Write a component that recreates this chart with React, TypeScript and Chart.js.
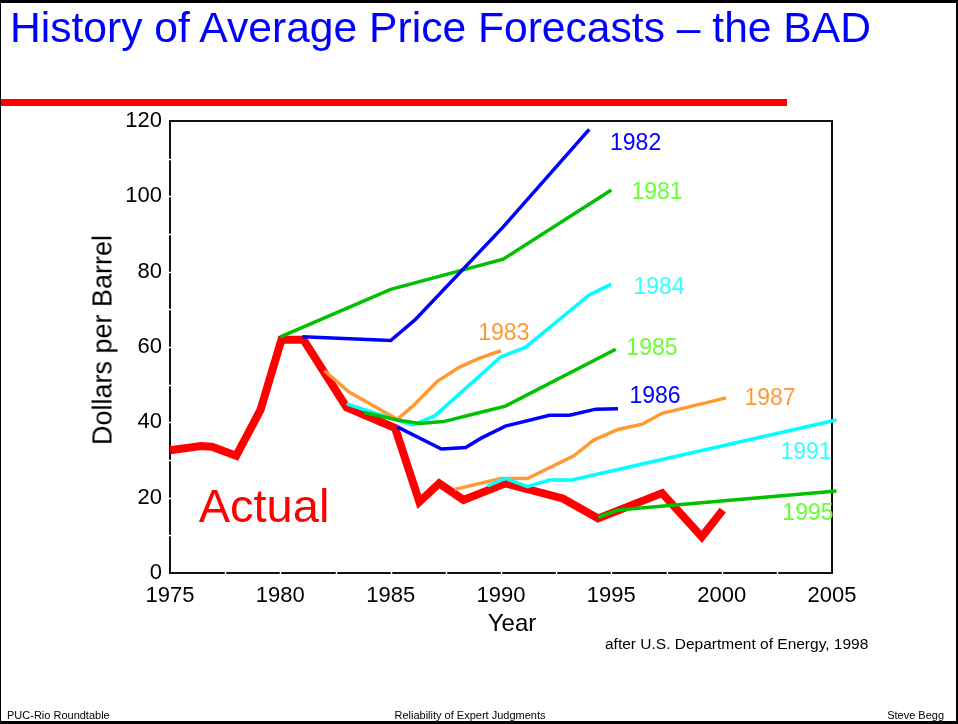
import React, { useEffect, useRef } from "react";
import { Chart, registerables } from "chart.js";

Chart.register(...registerables);

// ---- Data ----
const actualYears = [1975, 1976.4, 1976.9, 1978, 1979.1, 1980.05, 1981.05, 1983, 1985.2, 1986.3, 1987.2, 1988.3, 1990.2, 1992.8, 1994.4, 1997.3, 1999.1, 2000.05];
const actualValues = [32.6, 33.7, 33.5, 31.1, 43.3, 61.9, 61.9, 44.0, 38.5, 18.9, 23.8, 19.4, 23.8, 19.8, 14.5, 21.2, 9.6, 16.7];

const f1981Years = [1980, 1985, 1990.1, 1995];
const f1981Values = [62.7, 75.3, 83.3, 101.7];

const f1982Years = [1981, 1985, 1986.1, 1990.1, 1994];
const f1982Values = [62.7, 61.7, 67.2, 91.9, 117.8];

const f1983Years = [1982, 1983.1, 1985.3, 1986, 1987.1, 1988.1, 1989, 1990];
const f1983Values = [53.7, 48.1, 40.8, 44.3, 50.8, 54.6, 57.0, 59.0];

const f1984Years = [1983, 1984, 1986, 1987, 1990, 1991.1, 1994, 1995];
const f1984Values = [44.9, 43.0, 39.3, 41.7, 57.4, 59.9, 73.8, 76.7];

const f1985Years = [1983.8, 1985.3, 1986.3, 1987.4, 1988.9, 1990.2, 1995.2];
const f1985Values = [42.6, 40.6, 39.7, 40.2, 42.4, 44.3, 59.4];

const f1986Years = [1985.3, 1987.3, 1988.4, 1989.1, 1990.2, 1992.2, 1993.1, 1994.3, 1995.3];
const f1986Values = [38.8, 32.9, 33.3, 35.8, 39.0, 41.9, 41.9, 43.5, 43.6];

const f1987Years = [1987.9, 1990, 1991.2, 1993.3, 1994.2, 1995.3, 1996.4, 1997.3, 2000.2];
const f1987Values = [22.2, 25.1, 25.1, 31.1, 35.3, 38.1, 39.5, 42.4, 46.5];

const f1991Years = [1989.4, 1990.2, 1991.2, 1992.2, 1993.2, 2005.2];
const f1991Values = [23.1, 25.1, 22.9, 24.7, 24.7, 40.6];

const f1995Years = [1994.4, 1995.3, 2005.2];
const f1995Values = [14.8, 16.7, 21.8];

const labelTexts = ["1982", "1981", "1984", "1983", "1985", "1986", "1987", "1991", "1995", "Actual"];
const labelYears = [1996.1, 1997.07, 1997.16, 1990.13, 1996.84, 1996.98, 2002.19, 2003.82, 2003.91, 1979.26];
const labelValues = [114.4, 101.4, 76.2, 64.0, 60.0, 47.3, 46.7, 32.4, 16.2, 18.1];
const labelColors = ["#0000ff", "#66ff33", "#33ffff", "#ff9933", "#66ff33", "#0000ff", "#ff9933", "#33ffff", "#66ff33", "#ff0000"];
const labelSizes = [23, 23, 23, 23, 23, 23, 23, 23, 23, 47];

const xTicks = [1975, 1980, 1985, 1990, 1995, 2000, 2005];
const yTicks = [0, 20, 40, 60, 80, 100, 120];

const FONT = "'Liberation Sans', Arial, Helvetica, sans-serif";

const toPts = (xs: number[], ys: number[]) => xs.map((x, i) => ({ x, y: ys[i] }));

const BLUE = "#0000ff";
const GREEN = "#00c000";
const CYAN = "#00ffff";
const ORANGE = "#ff9933";
const RED = "#ff0000";

const frameAndLabels = {
  id: "frameAndLabels",
  beforeDatasetsDraw(chart: any) {
    const { ctx, chartArea, scales } = chart;
    const { left, right, top, bottom } = chartArea;
    ctx.save();
    ctx.strokeStyle = "#111";
    ctx.lineWidth = 2;
    ctx.strokeRect(left, top, right - left, bottom - top);
    // white notches on the axes
    ctx.strokeStyle = "#ffffff";
    ctx.lineWidth = 1.5;
    for (let v = 10; v < 120; v += 10) {
      const y = Math.round(scales.y.getPixelForValue(v)) + 0.5;
      ctx.beginPath();
      ctx.moveTo(left - 1, y);
      ctx.lineTo(left + 2, y);
      ctx.stroke();
    }
    for (let yr = 1977.5; yr < 2005; yr += 2.5) {
      const x = Math.round(scales.x.getPixelForValue(yr)) + 0.5;
      ctx.beginPath();
      ctx.moveTo(x, bottom - 2);
      ctx.lineTo(x, bottom + 1);
      ctx.stroke();
    }
    ctx.restore();
  },
  afterDatasetsDraw(chart: any) {
    const { ctx, scales } = chart;
    ctx.save();
    ctx.textAlign = "center";
    ctx.textBaseline = "alphabetic";
    labelTexts.forEach((t, i) => {
      const size = labelSizes[i];
      ctx.font = `${size}px ${FONT}`;
      ctx.fillStyle = labelColors[i];
      const x = scales.x.getPixelForValue(labelYears[i]);
      const y = scales.y.getPixelForValue(labelValues[i]) + 0.358 * size;
      ctx.fillText(t, x, y);
    });
    ctx.restore();
  },
};

function ds(label: string, xs: number[], ys: number[], color: string, width: number) {
  return {
    label,
    data: toPts(xs, ys),
    borderColor: color,
    backgroundColor: color,
    borderWidth: width,
    pointRadius: 0,
    pointHoverRadius: 0,
    tension: 0,
    fill: false,
    clip: false as any,
  };
}

export default function App() {
  const canvasRef = useRef<HTMLCanvasElement | null>(null);

  useEffect(() => {
    const canvas = canvasRef.current;
    if (!canvas) return;
    const chart = new Chart(canvas, {
      type: "line",
      data: {
        datasets: [
          ds("1995", f1995Years, f1995Values, GREEN, 3.5),
          ds("1991", f1991Years, f1991Values, CYAN, 3.5),
          ds("1987", f1987Years, f1987Values, ORANGE, 3.5),
          ds("1986", f1986Years, f1986Values, BLUE, 3.5),
          ds("1985", f1985Years, f1985Values, GREEN, 3.5),
          ds("1983", f1983Years, f1983Values, ORANGE, 3.5),
          ds("1984", f1984Years, f1984Values, CYAN, 3.5),
          ds("1982", f1982Years, f1982Values, BLUE, 3.5),
          ds("1981", f1981Years, f1981Values, GREEN, 3.5),
          ds("Actual", actualYears, actualValues, RED, 8),
        ],
      },
      options: {
        animation: false,
        responsive: false,
        devicePixelRatio: 1,
        events: [],
        layout: { padding: { left: 0, top: 121, right: 126, bottom: 0 } },
        plugins: {
          legend: { display: false },
          tooltip: { enabled: false },
          title: { display: false },
        },
        scales: {
          x: {
            type: "linear",
            min: 1975,
            max: 2005,
            grid: { display: false, drawTicks: false },
            border: { display: false },
            afterBuildTicks: (scale: any) => {
              scale.ticks = xTicks.map((v) => ({ value: v }));
            },
            afterFit: (scale: any) => {
              scale.height = 151;
            },
            ticks: {
              autoSkip: false,
              maxRotation: 0,
              padding: 10,
              color: "#000",
              font: { family: FONT, size: 22 },
              callback: (v: any) => String(v),
            },
          },
          y: {
            type: "linear",
            min: 0,
            max: 120,
            grid: { display: false, drawTicks: false },
            border: { display: false },
            afterBuildTicks: (scale: any) => {
              scale.ticks = yTicks.map((v) => ({ value: v }));
            },
            afterFit: (scale: any) => {
              scale.width = 170;
            },
            ticks: {
              autoSkip: false,
              padding: 8,
              color: "#000",
              font: { family: FONT, size: 22 },
              callback: (v: any) => String(v),
            },
          },
        },
      },
      plugins: [frameAndLabels],
    } as any);
    return () => chart.destroy();
  }, []);

  const abs = (extra: React.CSSProperties): React.CSSProperties => ({
    position: "absolute",
    fontFamily: FONT,
    lineHeight: 1,
    whiteSpace: "nowrap",
    margin: 0,
    ...extra,
  });

  return (
    <div
      style={{
        position: "fixed",
        left: 0,
        top: 0,
        width: 958,
        height: 724,
        background: "#ffffff",
        overflow: "hidden",
      }}
    >
      <canvas
        ref={canvasRef}
        width={958}
        height={724}
        style={{ position: "absolute", left: 0, top: 0, width: 958, height: 724 }}
      />
      <div style={abs({ left: 10, top: 6, fontSize: 42.6, color: "#0000ff" })}>
        History of Average Price Forecasts – the BAD
      </div>
      <div style={{ position: "absolute", left: 0, top: 99, width: 787, height: 7, background: "#ff0000" }} />
      <div
        style={abs({
          left: 103,
          top: 340,
          fontSize: 27,
          color: "#000",
          transform: "translate(-50%, -50%) rotate(-90deg)",
        })}
      >
        Dollars per Barrel
      </div>
      <div style={abs({ left: 412, width: 200, textAlign: "center", top: 611, fontSize: 24, color: "#000" })}>
        Year
      </div>
      <div style={abs({ left: 605, top: 636, fontSize: 15.5, color: "#000" })}>
        after U.S. Department of Energy, 1998
      </div>
      <div style={abs({ left: 7, top: 710, fontSize: 11, color: "#000" })}>PUC-Rio Roundtable</div>
      <div style={abs({ left: 370, width: 200, textAlign: "center", top: 710, fontSize: 11, color: "#000" })}>
        Reliability of Expert Judgments
      </div>
      <div style={abs({ right: 14, top: 710, fontSize: 11, color: "#000" })}>Steve Begg</div>
      <div
        style={{
          position: "absolute",
          left: 0,
          top: 0,
          width: 958,
          height: 724,
          boxSizing: "border-box",
          borderTop: "3px solid #000",
          borderRight: "2px solid #000",
          borderBottom: "3px solid #000",
          borderLeft: "1px solid #000",
          pointerEvents: "none",
        }}
      />
    </div>
  );
}
